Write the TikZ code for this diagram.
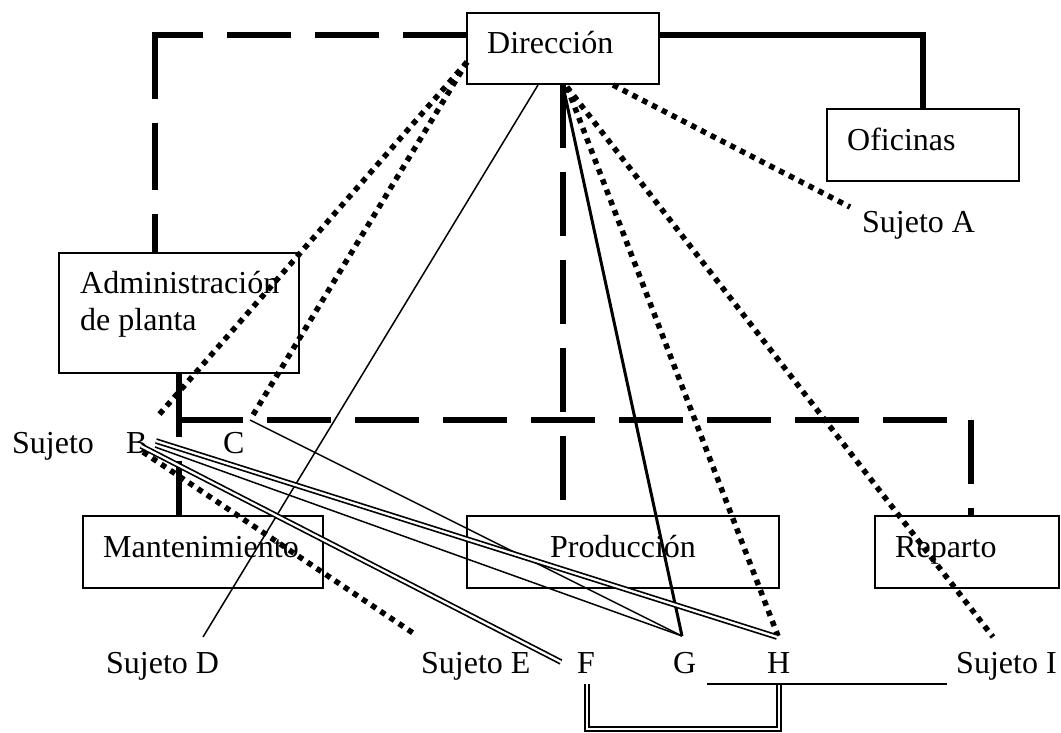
\documentclass[tikz,border=0pt]{standalone}
\usepackage{fontspec}
\setmainfont{Liberation Serif}
\begin{document}
\begin{tikzpicture}[x=1pt,y=-1pt,
  box/.style={draw, line width=1.5pt, rectangle, inner sep=0pt, outer sep=0pt, anchor=north west},
  lbl/.style={inner sep=0pt, anchor=base west, font=\fontsize{32}{37}\selectfont},
  org/.style={line width=6pt, dash pattern=on 64pt off 24pt},
  orgsolid/.style={line width=6pt},
  dots/.style={line width=5.5pt, dash pattern=on 5.5pt off 5.5pt},
  thin/.style={line width=1.5pt},
  bold/.style={line width=3pt},
  twin/.style={double, line width=1.7pt, double distance=2.3pt},
]
\useasboundingbox (0,0) rectangle (1061,732);

% units
\node[box, minimum width=192pt, minimum height=71pt]  (dir)   at (467,13)  {};
\node[box, minimum width=192pt, minimum height=72pt]  (ofi)   at (827,109) {};
\node[box, minimum width=240pt, minimum height=120pt] (admin) at (59,253)  {};
\node[box, minimum width=240pt, minimum height=72pt]  (mant)  at (83,516)  {};
\node[box, minimum width=312pt, minimum height=72pt]  (prod)  at (467,516) {};
\node[box, minimum width=184pt, minimum height=72pt]  (rep)   at (875,516) {};

\node[lbl] (tdir)   at (487,53)  {Dirección};
\node[lbl] (tofi)   at (847,150) {Oficinas};
\node[lbl] (tadm1)  at (80,293)  {Administración};
\node[lbl] (tadm2)  at (80,330)  {de planta};
\node[lbl] (tmant)  at (103,557) {Mantenimiento};
\node[lbl] (tprod)  at (550,557) {Producción};
\node[lbl] (trep)   at (895,557) {Reparto};

% people
\node[lbl] (sA)   at (862,232) {Sujeto A};
\node[lbl] (sBw)  at (12,453)  {Sujeto};
\node[lbl] (sB)   at (126,453) {B};
\node[lbl] (sC)   at (223,453) {C};
\node[lbl] (sD)   at (106,673) {Sujeto D};
\node[lbl] (sE)   at (421,673) {Sujeto E};
\node[lbl] (sF)   at (577,673) {F};
\node[lbl] (sG)   at (673,673) {G};
\node[lbl] (sH)   at (767,673) {H};
\node[lbl] (sI)   at (956,673) {Sujeto I};

% formal structure
\coordinate (tl) at (155,35);
\coordinate (tr) at (923,35);
\coordinate (vx) at (563,0);
\coordinate (hl) at (179,420);
\coordinate (hr) at (971,420);
\draw[org] (dir.west |- tl) -- ([xshift=-3pt]tl);
\draw[org, dash pattern=on 67pt off 24pt] ([yshift=3pt]tl) -- (admin.north -| tl);
\draw[orgsolid] (dir.east |- tr) -- (tr) -- (ofi.north -| tr);
\draw[org] (dir.south -| vx) -- (prod.north -| vx);
\draw[org] (admin.south -| hl) -- (mant.north -| hl);
\draw[org] (hl) -- (hr);
\draw[org] (hr) -- (rep.north -| hr);

% connection end points
\coordinate (dL)  at (467,62);
\coordinate (dA)  at (613,85);
\coordinate (dHI) at (567,87);
\coordinate (dD)  at (538,85);
\coordinate (dG)  at (563,86);
\coordinate (pB)  at (157,417);
\coordinate (pC)  at (253,415);
\coordinate (pA)  at (850,207);
\coordinate (pH)  at (778,636);
\coordinate (pI)  at (993,637);
\coordinate (pD)  at (203,637);
\coordinate (pG)  at (682,636);
\coordinate (cG)  at (250,420);
\coordinate (bG)  at (155,447);
\coordinate (bH)  at (156,441);
\coordinate (pH2) at (777,637);
\coordinate (bF)  at (141,446);
\coordinate (pF)  at (561,662);
\coordinate (bE)  at (143,452);
\coordinate (pE)  at (413,633);

% dotted links
\draw[dots] (dL) -- (pB);
\draw[dots] (dL) -- (pC);
\draw[dots] (dA) -- (pA);
\draw[dots] (dHI) -- (pH);
\draw[dots] (dHI) -- (pI);
\draw[dots] (bE) -- (pE);

% solid links
\draw[thin] (dD) -- (pD);
\draw[bold] (dG) -- (pG);
\draw[thin] (cG) -- (pG);
\draw[thin] (bG) -- (pG);
\draw[twin] (bH) -- (pH2);
\draw[twin] (bF) -- (pF);

% bracket under F and H
\coordinate (kF) at (587,684);
\coordinate (kH) at (779,684);
\draw[twin] (kF) -- ++(0,45) -| (kH);
\coordinate (l1) at (707,684);
\coordinate (l2) at (947,684);
\draw[thin] (l1) -- (l2);
\end{tikzpicture}
\end{document}
